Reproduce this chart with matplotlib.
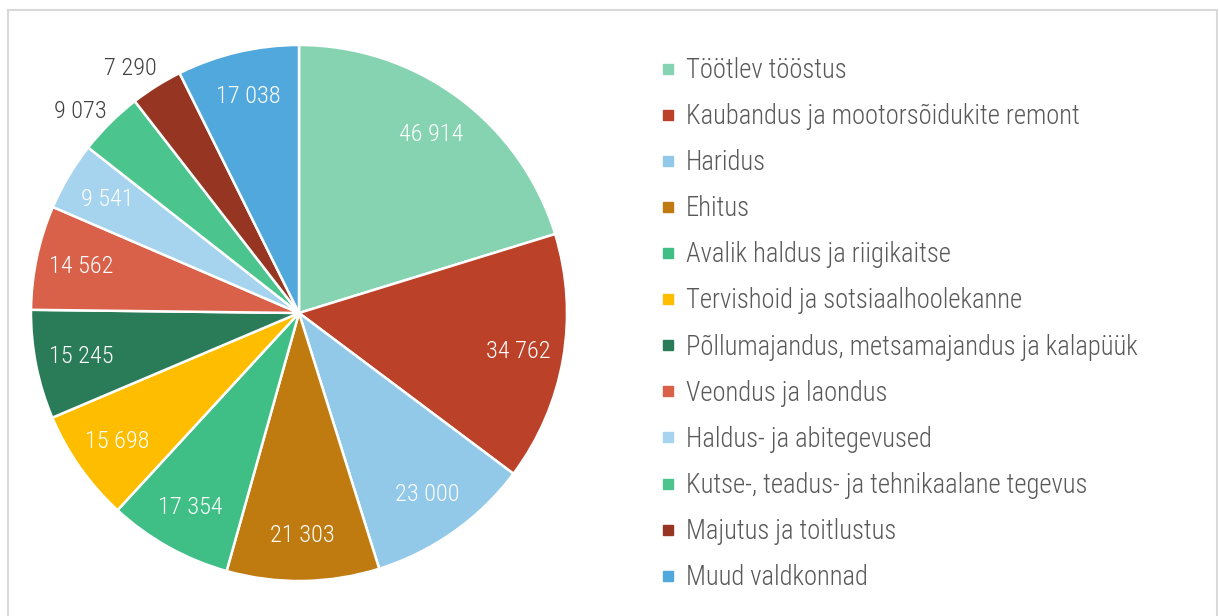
import numpy as np
import matplotlib
matplotlib.use("Agg")
import matplotlib.pyplot as plt
from matplotlib.lines import Line2D
from matplotlib.patches import Rectangle

plt.rcParams['font.family'] = ['Roboto Condensed', 'Roboto', 'DejaVu Sans']

categories = [
    "Töötlev tööstus",
    "Kaubandus ja mootorsõidukite remont",
    "Haridus",
    "Ehitus",
    "Avalik haldus ja riigikaitse",
    "Tervishoid ja sotsiaalhoolekanne",
    "Põllumajandus, metsamajandus ja kalapüük",
    "Veondus ja laondus",
    "Haldus- ja abitegevused",
    "Kutse-, teadus- ja tehnikaalane tegevus",
    "Majutus ja toitlustus",
    "Muud valdkonnad",
]
values = [46914, 34762, 23000, 21303, 17354, 15698, 15245, 14562, 9541, 9073, 7290, 17038]
colors = ["#85D3B1", "#BC4129", "#92C8E8", "#BF7B10", "#3FBF85", "#FFBD00",
          "#2A7B58", "#D9614A", "#A6D3EE", "#4CC48E", "#963522", "#51A8DC"]
outside = [False] * 9 + [True, True, False]

W, H = 1219, 616
fig = plt.figure(figsize=(W / 100, H / 100), dpi=100)

# light frame
fig.patches.append(Rectangle((8 / W, -0.05), 1209 / W, (H - 10) / H + 0.05,
                             transform=fig.transFigure, fill=False,
                             edgecolor="#D9D9D9", linewidth=1.5))

cx, cy, r = 299, 313, 268
ax = fig.add_axes([(cx - r) / W, (H - cy - r) / H, 2 * r / W, 2 * r / H])
wedges, _ = ax.pie(values, colors=colors, startangle=90, counterclock=False,
                   radius=1, wedgeprops=dict(edgecolor="white", linewidth=1.8))
ax.set_xlim(-1, 1)
ax.set_ylim(-1, 1)
ax.set_aspect("equal")
ax.axis("off")

def fmt(v):
    return f"{v:,}".replace(",", " ")

for w, v, out in zip(wedges, values, outside):
    mid = (w.theta1 + w.theta2) / 2
    if out:
        a = np.deg2rad(mid + 2.5)
        rr = 1.11
    else:
        a = np.deg2rad(mid)
        rr = 0.83
    ax.text(rr * np.cos(a), rr * np.sin(a), fmt(v), ha="center", va="center",
            fontsize=17.5, fontweight="light",
            color="#404040" if out else "white")

handles = [Line2D([], [], marker="s", linestyle="none", markersize=7,
                  markerfacecolor=c, markeredgecolor=c) for c in colors]
fig.legend(handles, categories, loc="upper left",
           bbox_to_anchor=(662 / W, 1 - 57 / H), frameon=False,
           prop=dict(size=19.2, weight="light"), labelcolor="#595959",
           handlelength=0.45, handletextpad=0.45, labelspacing=0.716,
           borderpad=0, borderaxespad=0)

fig.savefig("out.png", dpi=100)
